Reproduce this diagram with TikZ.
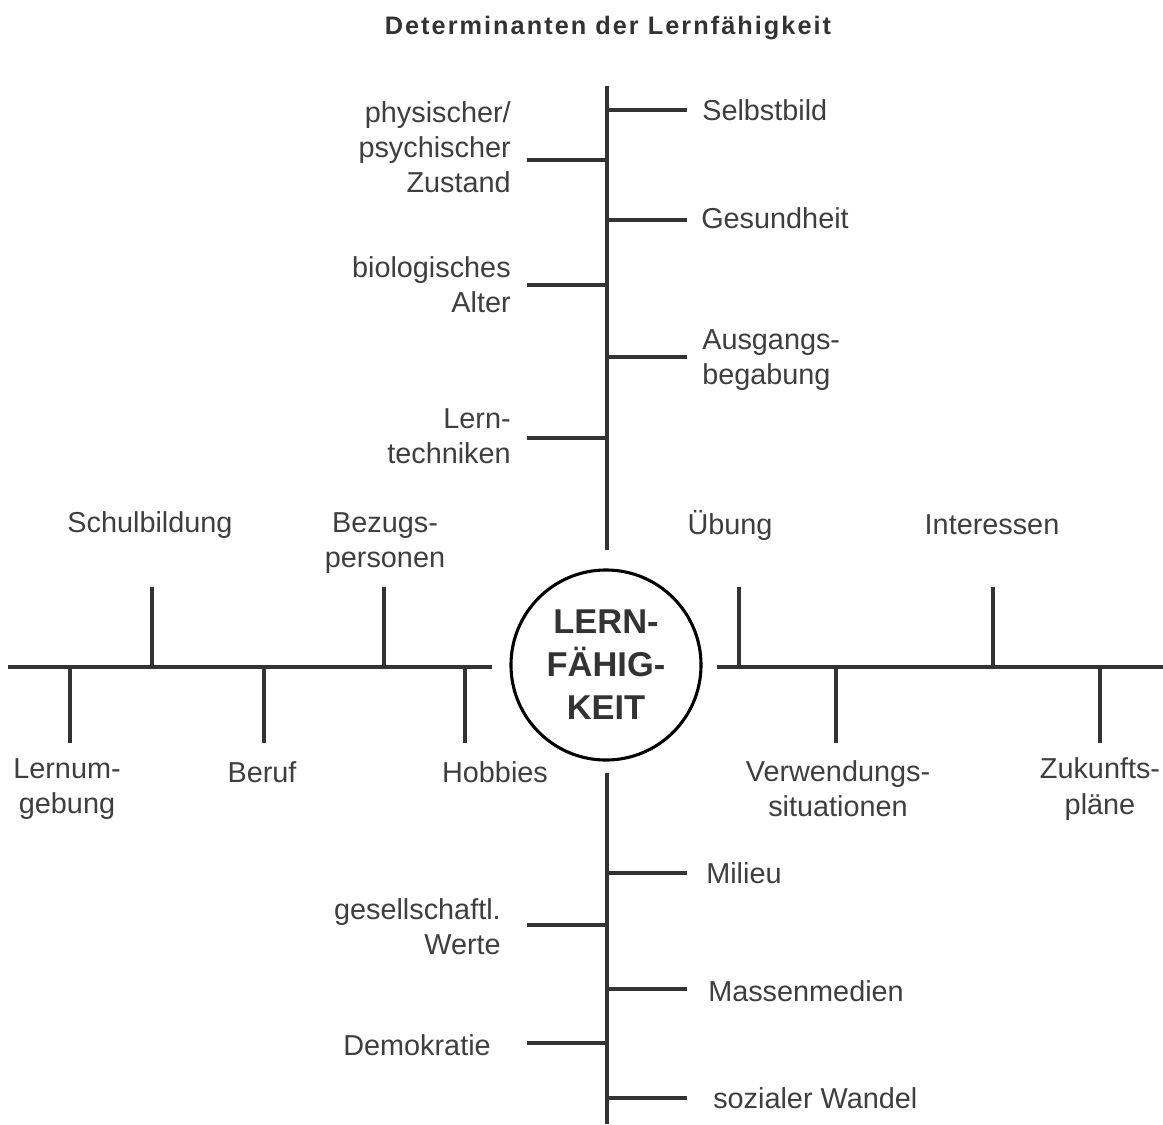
\documentclass[tikz,border=0pt]{standalone}
\usepackage{fontspec}
\setmainfont{Liberation Sans}
\newfontfamily\headfont[LetterSpace=8]{Liberation Sans}
\usetikzlibrary{positioning}
\definecolor{ink}{RGB}{51,51,51}
\definecolor{txt}{RGB}{62,62,62}
\tikzset{
  stem/.style={draw=ink,line width=3.3pt},
  tag/.style={font=\fontsize{20.5}{25}\selectfont,text=txt,inner sep=0pt,align=#1},
  tag/.default=center,
  head/.style={font=\headfont\fontsize{18}{21}\selectfont\bfseries,text=ink,inner sep=0pt},
  hub/.style={circle,draw=black,line width=2.2pt,minimum size=4.75cm,inner sep=0pt,
    font=\fontsize{24.5}{30.5}\selectfont\bfseries,text=ink,align=center},
}

\begin{document}
\begin{tikzpicture}[x=0.025cm,y=-0.025cm]
  \useasboundingbox (0,0) rectangle (1163,1124);
  \node[head] (title) at (608,28) {Determinanten der Lernfähigkeit};
  \node[hub] (core) at (606,665) {LERN-\\FÄHIG-\\KEIT};

  % trunks
  \coordinate (n-top) at (607,86);  \coordinate (n-bot) at (607,550);
  \coordinate (s-top) at (607,773); \coordinate (s-bot) at (607,1124);
  \coordinate (w-end) at (8,667);   \coordinate (w-in) at (492,667);
  \coordinate (e-in) at (717,667);  \coordinate (e-end) at (1163,667);
  \draw[stem] (n-top) -- (n-bot);
  \draw[stem] (s-top) -- (s-bot);
  \draw[stem] (w-end) -- (w-in);
  \draw[stem] (e-in) -- (e-end);

  % branches off the vertical trunks
  \foreach \n/\x/\y in {selbst/687/110,gesund/687/220,ausgang/687/357,
      zustand/527/160,alter/527/285,technik/527/438}{
    \coordinate (\n-tip) at (\x,\y);
    \draw[stem] (\n-tip -| n-top) -- (\n-tip);
  }
  \foreach \n/\x/\y in {milieu/687/873,medien/687/989,wandel/687/1098,
      werte/527/925,demo/527/1043}{
    \coordinate (\n-tip) at (\x,\y);
    \draw[stem] (\n-tip -| s-top) -- (\n-tip);
  }
  % ticks on the horizontal line
  \foreach \n/\x/\y in {schule/152/587,bezug/384/587,uebung/739/587,interesse/993/587,
      umgebung/70/743,beruf/264/743,hobby/465/743,verwendung/836/743,zukunft/1100/743}{
    \coordinate (\n-tip) at (\x,\y);
    \draw[stem] (\n-tip) -- (\n-tip |- w-in);
  }

  % labels, north
  \node[tag,anchor=west] (selbst) at (702,110) {Selbstbild};
  \node[tag,anchor=west] (gesund) at (701,218) {Gesundheit};
  \node[tag=left,anchor=west] (ausgang) at (702,360) {Ausgangs-\\begabung};
  \node[tag=right,anchor=east] (zustand) at (511,147) {physischer/\\psychischer\\Zustand};
  \node[tag=right,anchor=east] (alter) at (511,285) {biologisches\\Alter};
  \node[tag=right,anchor=east] (technik) at (511,436) {Lern-\\techniken};
  % labels, west and east
  \node[tag] (schule) at (150,525) {Schulbildung};
  \node[tag] (bezug) at (385,543) {Bezugs-\\personen};
  \node[tag] (uebung) at (730,525) {Übung};
  \node[tag] (interesse) at (992,525) {Interessen};
  \node[tag] (umgebung) at (67,789) {Lernum-\\gebung};
  \node[tag] (beruf) at (262,772) {Beruf};
  \node[tag] (hobby) at (495,772) {Hobbies};
  \node[tag] (verwendung) at (838,789) {Verwendungs-\\situationen};
  \node[tag] (zukunft) at (1100,789) {Zukunfts-\\pläne};
  % labels, south
  \node[tag,anchor=west] (milieu) at (706,873) {Milieu};
  \node[tag,anchor=west] (medien) at (708,991) {Massenmedien};
  \node[tag,anchor=west] (wandel) at (713,1098) {sozialer Wandel};
  \node[tag=right,anchor=east] (werte) at (501,927) {gesellschaftl.\\Werte};
  \node[tag,anchor=east] (demo) at (491,1045) {Demokratie};
\end{tikzpicture}
\end{document}
